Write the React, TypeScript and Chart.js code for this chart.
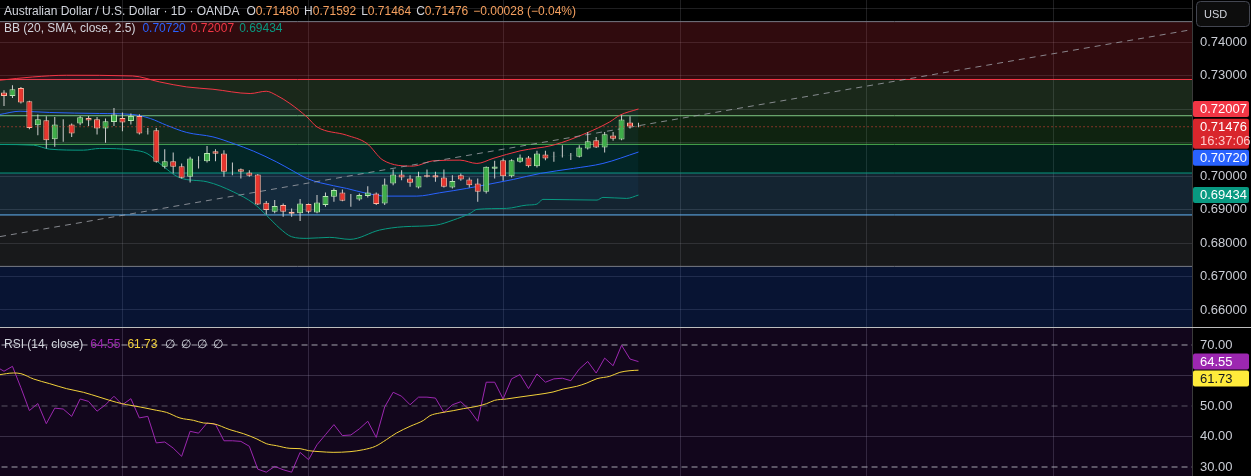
import React, { useEffect, useRef } from 'react';
import { Chart, registerables } from 'chart.js';

Chart.register(...registerables);

const FONT = '"Liberation Sans", Arial, sans-serif';

// ---- candles (daily) ----
const opens = [0.72499, 0.72397, 0.72636, 0.72239, 0.71522, 0.71672, 0.71105, 0.71486, 0.71543, 0.71573, 0.71740, 0.71702, 0.71424, 0.71621, 0.71740, 0.71651, 0.71800, 0.71336, 0.71373, 0.70278, 0.70448, 0.70299, 0.69979, 0.70478, 0.70448, 0.70746, 0.70678, 0.70149, 0.70209, 0.70110, 0.70051, 0.69203, 0.68934, 0.69134, 0.68934, 0.68887, 0.69164, 0.68916, 0.69134, 0.69382, 0.69513, 0.69328, 0.69305, 0.69403, 0.69484, 0.69185, 0.69782, 0.70051, 0.69931, 0.69663, 0.70030, 0.70030, 0.69961, 0.69663, 0.70030, 0.69900, 0.69782, 0.69531, 0.70218, 0.70478, 0.70000, 0.70427, 0.70558, 0.70299, 0.70648, 0.70582, 0.70600, 0.70612, 0.70576, 0.70827, 0.71075, 0.70857, 0.71215, 0.71096, 0.71603, 0.71480];
const highs = [0.72567, 0.72716, 0.72666, 0.72250, 0.71842, 0.71791, 0.71770, 0.71702, 0.71573, 0.71800, 0.71800, 0.71770, 0.71722, 0.72039, 0.71901, 0.71872, 0.71850, 0.71442, 0.71440, 0.70806, 0.70707, 0.70380, 0.70576, 0.70597, 0.70904, 0.70806, 0.70776, 0.70409, 0.70230, 0.70179, 0.70060, 0.69254, 0.69284, 0.69180, 0.69036, 0.69314, 0.69180, 0.69433, 0.69513, 0.69633, 0.69603, 0.69463, 0.69484, 0.69701, 0.69513, 0.69931, 0.70200, 0.70179, 0.70030, 0.70128, 0.70200, 0.70128, 0.70200, 0.70030, 0.70080, 0.69960, 0.69931, 0.70290, 0.70457, 0.70528, 0.70507, 0.70648, 0.70600, 0.70755, 0.70760, 0.70725, 0.70925, 0.70695, 0.70925, 0.71322, 0.71173, 0.71322, 0.71322, 0.71821, 0.71791, 0.71592];
const lows = [0.72099, 0.72337, 0.72170, 0.71403, 0.71224, 0.70827, 0.70875, 0.71024, 0.71173, 0.71522, 0.71500, 0.71245, 0.70994, 0.71501, 0.71343, 0.71543, 0.71245, 0.71245, 0.70400, 0.70230, 0.70081, 0.69930, 0.69812, 0.70230, 0.70409, 0.70448, 0.69979, 0.70030, 0.69931, 0.69979, 0.69134, 0.68857, 0.68887, 0.68785, 0.68785, 0.68657, 0.68887, 0.68887, 0.69084, 0.69233, 0.69250, 0.69084, 0.69263, 0.69364, 0.69134, 0.69134, 0.69731, 0.69880, 0.69681, 0.69633, 0.69961, 0.69830, 0.69663, 0.69633, 0.69860, 0.69663, 0.69233, 0.69484, 0.69931, 0.69860, 0.69960, 0.70397, 0.70260, 0.70260, 0.70478, 0.70427, 0.70558, 0.70480, 0.70560, 0.70797, 0.70840, 0.70707, 0.71054, 0.71075, 0.71424, 0.71464];
const closes = [0.72397, 0.72597, 0.72200, 0.71442, 0.71702, 0.71075, 0.71543, 0.71480, 0.71275, 0.71761, 0.71663, 0.71424, 0.71642, 0.71842, 0.71603, 0.71800, 0.71275, 0.71343, 0.70427, 0.70448, 0.70278, 0.69949, 0.70528, 0.70484, 0.70695, 0.70666, 0.70128, 0.70155, 0.70128, 0.70009, 0.69155, 0.68985, 0.69104, 0.68934, 0.68875, 0.69185, 0.68934, 0.69215, 0.69403, 0.69582, 0.69263, 0.69334, 0.69433, 0.69513, 0.69164, 0.69752, 0.70051, 0.69961, 0.69800, 0.70000, 0.69979, 0.69961, 0.69681, 0.69851, 0.69900, 0.69731, 0.69531, 0.70278, 0.70290, 0.70000, 0.70478, 0.70558, 0.70299, 0.70678, 0.70528, 0.70588, 0.70606, 0.70618, 0.70857, 0.71045, 0.70857, 0.71254, 0.71114, 0.71693, 0.71480, 0.71476];

// ---- Bollinger Bands (20, 2.5), read at sample positions [candle index, price] ----
const bbUpper: [number, number][] = [[-0.5, 0.72866], [3.4, 0.72964], [7.4, 0.73015], [15.2, 0.72994], [18.4, 0.72815], [21.6, 0.72666], [24.7, 0.72597], [29.1, 0.72469], [31.0, 0.72537], [32.2, 0.72418], [33.8, 0.72170], [35.8, 0.71770], [37.0, 0.71472], [40.5, 0.71224], [42.9, 0.70976], [44.8, 0.70478], [48.4, 0.70299], [50.7, 0.70457], [53.9, 0.70478], [55.9, 0.70379], [57.8, 0.70528], [61.0, 0.70755], [64.9, 0.70925], [68.9, 0.71293], [71.6, 0.71621], [72.8, 0.71821], [75, 0.72007]];
const bbBasis: [number, number][] = [[-0.5, 0.71842], [1.9, 0.71940], [5.4, 0.71902], [11.3, 0.71872], [15.2, 0.71842], [17.3, 0.71722], [19.2, 0.71522], [21.6, 0.71305], [24.7, 0.71173], [27.1, 0.70976], [29.5, 0.70746], [32.2, 0.70427], [34.2, 0.70149], [35.8, 0.69931], [37.4, 0.69800], [40.5, 0.69633], [42.9, 0.69484], [45.2, 0.69403], [48.8, 0.69403], [51.5, 0.69502], [54.7, 0.69633], [57.8, 0.69782], [60.2, 0.69901], [63.4, 0.70081], [67.3, 0.70230], [70.8, 0.70379], [75, 0.70720]];
const bbLower: [number, number][] = [[-0.5, 0.70946], [3.5, 0.70925], [5.4, 0.70806], [9.4, 0.70776], [11.3, 0.70827], [15.3, 0.70776], [16.9, 0.70678], [18.4, 0.70379], [20.8, 0.69949], [24.0, 0.69830], [27.1, 0.69531], [29.5, 0.69185], [31.0, 0.68836], [32.6, 0.68439], [34.0, 0.68188], [35.8, 0.68140], [38.5, 0.68170], [40.9, 0.68110], [44.4, 0.68388], [47.2, 0.68487], [51.1, 0.68537], [53.1, 0.68687], [55.1, 0.68887], [55.9, 0.69006], [59.4, 0.69036], [61.8, 0.69134], [63.0, 0.69164], [63.7, 0.69305], [70.1, 0.69284], [70.8, 0.69364], [73.6, 0.69334], [75, 0.69434]];

// ---- RSI (14) per candle, first value belongs to candle index -1 ----
const rsiFirstIndex = -1;
const rsiValues = [63.0, 61.4, 63.0, 56.0, 48.5, 50.8, 44.2, 49.3, 49.0, 46.6, 52.3, 51.5, 48.3, 50.4, 53.2, 50.4, 52.4, 46.1, 46.6, 37.9, 38.2, 36.2, 33.5, 41.7, 41.1, 44.4, 44.0, 38.6, 38.6, 38.4, 36.8, 29.3, 28.3, 30.2, 29.1, 28.3, 34.8, 32.4, 37.3, 40.6, 43.9, 40.3, 40.5, 42.5, 45.0, 39.7, 49.7, 54.5, 53.2, 50.4, 52.9, 52.9, 52.6, 47.9, 50.4, 51.4, 48.8, 45.0, 57.8, 57.8, 52.3, 58.9, 60.3, 55.7, 60.5, 57.8, 58.9, 59.1, 58.3, 62.1, 64.6, 60.8, 65.7, 63.2, 69.9, 65.4, 64.55];
// RSI-based MA, read at sample positions [candle index, value]
const rsiMa: [number, number][] = [[-0.5, 60.27], [1.1, 60.82], [2.0, 60.6], [3.5, 58.85], [5.4, 57.32], [7.4, 55.68], [9.4, 54.48], [11.35, 52.84], [13.3, 51.2], [14.5, 50.44], [16.1, 49.67], [18.05, 48.58], [19.2, 47.92], [20.8, 46.07], [22.4, 45.3], [23.6, 44.43], [24.7, 44.21], [26.7, 42.24], [28.3, 40.93], [29.9, 39.18], [31.0, 37.65], [32.2, 36.99], [33.8, 36.12], [35.0, 36.01], [36.0, 35.36], [37.35, 35.03], [38.9, 34.81], [40.9, 35.03], [42.5, 35.68], [43.9, 36.78], [45.2, 38.96], [46.4, 41.15], [48.0, 43.33], [49.6, 45.3], [50.35, 46.83], [51.5, 47.7], [53.1, 48.47], [54.3, 49.13], [55.9, 49.89], [57.05, 50.77], [58.0, 51.86], [59.4, 52.3], [61.0, 52.95], [63.0, 53.72], [64.9, 54.59], [66.1, 55.57], [67.7, 56.45], [68.9, 57.54], [70.1, 58.96], [71.6, 59.73], [72.8, 61.04], [74.0, 61.58], [75, 61.73]];

// ---- drawings ----
const fibLevels = [0.74617, 0.72888, 0.71805, 0.70949, 0.70093, 0.68840, 0.67302, 0.62781];
const fibColors = ['#787b86', '#f23645', '#81c784', '#4caf50', '#089981', '#64b5f6', '#787b86', '#2962ff'];
const trendLine: [number, number][] = [[-0.47, 0.68193], [140.43, 0.74379]];
const lastPrice = 0.71476;

// ---- axes ----
const X_MIN = -0.4728;
const X_MAX = 140.43;
const P_MIN = 0.65491;
const P_MAX = 0.75264;
const R_MIN = 27.05;
const R_MAX = 75.57;
const vGridIdx = [14, 36, 59, 80, 102, 124];
const priceTicks = [0.66, 0.67, 0.68, 0.69, 0.70, 0.71, 0.72, 0.73, 0.74, 0.75];
const priceTickLabels = ['0.66000', '0.67000', '0.68000', '0.69000', '0.70000', '', '', '0.73000', '0.74000', ''];
const rsiTicks = [30, 40, 50, 60, 70];
const rsiTickLabels = ['30.00', '40.00', '50.00', '', '70.00'];
const rsiBands = [70, 50, 30];

// ---- texts ----
const headerTitle = 'Australian Dollar / U.S. Dollar · 1D · OANDA';
const ohlcLetters = ['O', 'H', 'L', 'C'];
const ohlcValues = ['0.71480', '0.71592', '0.71464', '0.71476'];
const changeText = '−0.00028 (−0.04%)';
const bbTitle = 'BB (20, SMA, close, 2.5)';
const bbValueTexts = ['0.70720', '0.72007', '0.69434'];
const bbValueColors = ['#2962ff', '#f23645', '#089981'];
const rsiTitle = 'RSI (14, close)';
const rsiValueTexts = ['64.55', '61.73'];
const rsiEmpty = ['∅', '∅', '∅', '∅'];

const priceTags = [
  { value: 0.72007, text: '0.72007', bg: '#f23645', fg: '#ffffff' },
  { value: 0.71476, text: '0.71476', sub: '16:37:06', bg: '#d9262c', fg: '#ffffff' },
  { value: 0.70720, text: '0.70720', bg: '#2962ff', fg: '#ffffff' },
  { value: 0.69434, text: '0.69434', bg: '#089981', fg: '#ffffff' },
];
const rsiTags = [
  { value: 64.55, text: '64.55', bg: '#9c27b0', fg: '#ffffff' },
  { value: 61.73, text: '61.73', bg: '#ffeb3b', fg: '#131722' },
];

const TEXT = '#d1d4dc';
const AXIS_TEXT = '#c9ccd4';
const ORANGE = '#f5a05f';
const RSI_COLOR = '#9c27b0';
const MA_COLOR = '#f2d13a';

function rgba(hex: string, a: number) {
  const n = parseInt(hex.slice(1), 16);
  return `rgba(${(n >> 16) & 255},${(n >> 8) & 255},${n & 255},${a})`;
}

function drawRuns(ctx: CanvasRenderingContext2D, x: number, y: number, runs: { t: string; c: string; g: number }[]) {
  for (const r of runs) {
    ctx.fillStyle = r.c;
    ctx.fillText(r.t, x, y);
    x += ctx.measureText(r.t).width + r.g;
  }
}

function drawTags(ctx: CanvasRenderingContext2D, scale: any, tags: any[], left: number) {
  const items = tags
    .map((t) => ({ ...t, y: scale.getPixelForValue(t.value), h: t.sub ? 30 : 16 }))
    .sort((a, b) => a.y - b.y);
  let prevBottom = -1e9;
  ctx.font = `13px ${FONT}`;
  ctx.textBaseline = 'middle';
  ctx.textAlign = 'left';
  for (const it of items) {
    let top = it.y - 8;
    if (top < prevBottom + 1) top = prevBottom + 1;
    prevBottom = top + it.h;
    ctx.fillStyle = it.bg;
    ctx.beginPath();
    (ctx as any).roundRect(left + 1, top, 56, it.h, 2);
    ctx.fill();
    ctx.fillStyle = it.fg;
    ctx.fillText(it.text, left + 8, top + 8.5);
    if (it.sub) {
      ctx.fillStyle = '#ffc9c9';
      ctx.fillText(it.sub, left + 8, top + 22.5);
    }
  }
}

const xScaleCfg = (gridColor: string) => ({
  type: 'linear' as const,
  min: X_MIN,
  max: X_MAX,
  bounds: 'data' as const,
  offset: false,
  display: true,
  ticks: { display: false },
  border: { display: false },
  grid: { color: gridColor, drawTicks: false, lineWidth: 1, offset: false },
  afterBuildTicks: (s: any) => {
    s.ticks = vGridIdx.map((v) => ({ value: v }));
  },
  afterFit: (s: any) => {
    s.height = 0;
    s.paddingLeft = 0;
    s.paddingRight = 0;
  },
});

export default function App() {
  const priceRef = useRef<HTMLCanvasElement>(null);
  const rsiRef = useRef<HTMLCanvasElement>(null);

  useEffect(() => {
    const idx = opens.map((_, i) => i);
    const isUp = idx.map((i) => closes[i] >= opens[i]);
    const span = (v: number) => [{ x: X_MIN - 1, y: v }, { x: X_MAX + 1, y: v }];

    const fibDatasets = fibLevels.map((lvl, k) => ({
      type: 'line' as const,
      data: span(lvl),
      borderColor: fibColors[k],
      borderWidth: 1,
      pointRadius: 0,
      fill: k === 0 ? false : { target: k - 1 },
      backgroundColor: rgba(fibColors[k], 0.2),
      order: 100,
    }));
    const nFib = fibDatasets.length;

    const priceOverlay = {
      id: 'priceOverlay',
      beforeDraw(chart: any) {
        const { ctx, width, height } = chart;
        ctx.save();
        ctx.fillStyle = '#000000';
        ctx.fillRect(0, 0, width, height);
        ctx.restore();
      },
      afterDraw(chart: any) {
        const ctx: CanvasRenderingContext2D = chart.ctx;
        const ys = chart.scales.y;
        ctx.save();
        ctx.font = `12px ${FONT}`;
        ctx.textBaseline = 'middle';
        ctx.textAlign = 'left';
        const line1: { t: string; c: string; g: number }[] = [{ t: headerTitle, c: TEXT, g: 7 }];
        ohlcLetters.forEach((l, i) => {
          line1.push({ t: l, c: TEXT, g: 0 });
          line1.push({ t: ohlcValues[i], c: ORANGE, g: 5 });
        });
        line1.push({ t: changeText, c: ORANGE, g: 0 });
        drawRuns(ctx, 4, 12, line1);
        const line2 = [{ t: bbTitle, c: TEXT, g: 7 }].concat(
          bbValueTexts.map((t, i) => ({ t, c: bbValueColors[i], g: 5 }))
        );
        drawRuns(ctx, 4, 28.5, line2);
        drawTags(ctx, ys, priceTags, ys.left);
        // currency box
        ctx.strokeStyle = '#434651';
        ctx.fillStyle = '#0d0d0d';
        ctx.lineWidth = 1;
        ctx.beginPath();
        (ctx as any).roundRect(ys.left + 4.5, 1.5, 53, 25, 4);
        ctx.fill();
        ctx.stroke();
        ctx.font = `11px ${FONT}`;
        ctx.fillStyle = TEXT;
        ctx.fillText('USD', ys.left + 12, 14.5);
        ctx.restore();
      },
    };

    const priceChart = new Chart(priceRef.current as HTMLCanvasElement, {
      type: 'bar',
      data: {
        datasets: [
          ...fibDatasets,
          {
            type: 'line' as const,
            data: bbUpper.map(([x, y]) => ({ x, y })),
            borderColor: '#f23645',
            borderWidth: 1,
            pointRadius: 0,
            cubicInterpolationMode: 'monotone' as const,
            order: 50,
          },
          {
            type: 'line' as const,
            data: bbBasis.map(([x, y]) => ({ x, y })),
            borderColor: '#2962ff',
            borderWidth: 1,
            pointRadius: 0,
            cubicInterpolationMode: 'monotone' as const,
            order: 50,
          },
          {
            type: 'line' as const,
            data: bbLower.map(([x, y]) => ({ x, y })),
            borderColor: '#089981',
            borderWidth: 1,
            pointRadius: 0,
            cubicInterpolationMode: 'monotone' as const,
            fill: { target: nFib },
            backgroundColor: 'rgba(33,150,243,0.06)',
            order: 50,
          },
          {
            type: 'line' as const,
            data: trendLine.map(([x, y]) => ({ x, y })),
            borderColor: 'rgba(160,163,170,0.8)',
            borderWidth: 1,
            borderDash: [6, 5],
            pointRadius: 0,
            order: 40,
          },
          {
            type: 'bar' as const,
            data: idx.map((i) => ({ x: i, y: [lows[i], highs[i]] })),
            backgroundColor: '#cfcfcf',
            barThickness: 1,
            grouped: false,
            inflateAmount: 0,
            order: 30,
          },
          {
            type: 'bar' as const,
            data: idx.map((i) => ({ x: i, y: [opens[i], closes[i]] })),
            backgroundColor: idx.map((i) => (isUp[i] ? '#3fae49' : '#e8352e')),
            borderColor: idx.map((i) => (isUp[i] ? '#b5e6b0' : '#ffb4a0')),
            borderWidth: 1,
            borderSkipped: false,
            barThickness: 6,
            grouped: false,
            inflateAmount: 0,
            order: 20,
          },
          {
            type: 'line' as const,
            data: span(lastPrice),
            borderColor: '#f0463a',
            borderWidth: 1,
            borderDash: [1, 3],
            pointRadius: 0,
            order: 10,
          },
        ] as any,
      },
      options: {
        animation: false,
        responsive: false,
        events: [],
        layout: { padding: 0 },
        plugins: { legend: { display: false }, tooltip: { enabled: false } },
        scales: {
          x: xScaleCfg('rgba(140,140,150,0.22)') as any,
          y: {
            type: 'linear',
            position: 'right',
            min: P_MIN,
            max: P_MAX,
            bounds: 'data',
            border: { display: true, color: '#3a3a3a' },
            grid: { color: 'rgba(140,140,150,0.22)', drawTicks: false },
            ticks: {
              padding: 8,
              crossAlign: 'near',
              color: AXIS_TEXT,
              font: { family: FONT, size: 13 },
              autoSkip: false,
              callback: (v: any) => {
                const k = priceTicks.findIndex((t) => Math.abs(t - Number(v)) < 1e-6);
                return k >= 0 ? priceTickLabels[k] : '';
              },
            },
            afterBuildTicks: (s: any) => {
              s.ticks = priceTicks.map((v) => ({ value: v }));
            },
            afterFit: (s: any) => {
              s.width = 59;
              s.paddingTop = 0;
              s.paddingBottom = 0;
            },
          } as any,
        },
      },
      plugins: [priceOverlay],
    });

    const rsiOverlay = {
      id: 'rsiOverlay',
      beforeDraw(chart: any) {
        const { ctx, width, height, chartArea } = chart;
        ctx.save();
        ctx.fillStyle = '#000000';
        ctx.fillRect(0, 0, width, height);
        ctx.fillStyle = '#12061c';
        ctx.fillRect(chartArea.left, chartArea.top, chartArea.right - chartArea.left, chartArea.bottom - chartArea.top);
        ctx.restore();
      },
      afterDraw(chart: any) {
        const ctx: CanvasRenderingContext2D = chart.ctx;
        const ys = chart.scales.y;
        ctx.save();
        ctx.font = `12px ${FONT}`;
        ctx.textBaseline = 'middle';
        ctx.textAlign = 'left';
        const runs = [
          { t: rsiTitle, c: TEXT, g: 7 },
          { t: rsiValueTexts[0], c: RSI_COLOR, g: 7 },
          { t: rsiValueTexts[1], c: MA_COLOR, g: 8 },
        ].concat(rsiEmpty.map((t) => ({ t, c: TEXT, g: 6 })));
        drawRuns(ctx, 4, 16.5, runs);
        drawTags(ctx, ys, rsiTags, ys.left);
        ctx.restore();
      },
    };

    const rsiChart = new Chart(rsiRef.current as HTMLCanvasElement, {
      type: 'line',
      data: {
        datasets: [
          ...rsiBands.map((b) => ({
            data: span(b),
            borderColor: b === 50 ? 'rgba(149,152,161,0.55)' : 'rgba(190,192,200,0.85)',
            borderWidth: 1,
            borderDash: [6, 4],
            pointRadius: 0,
            order: 50,
          })),
          {
            data: rsiValues.map((v, k) => ({ x: k + rsiFirstIndex, y: v })),
            borderColor: RSI_COLOR,
            borderWidth: 1,
            pointRadius: 0,
            order: 20,
          },
          {
            data: rsiMa.map(([x, y]) => ({ x, y })),
            borderColor: MA_COLOR,
            borderWidth: 1,
            pointRadius: 0,
            cubicInterpolationMode: 'monotone' as const,
            order: 10,
          },
        ] as any,
      },
      options: {
        animation: false,
        responsive: false,
        events: [],
        layout: { padding: 0 },
        plugins: { legend: { display: false }, tooltip: { enabled: false } },
        scales: {
          x: xScaleCfg('rgba(150,140,170,0.25)') as any,
          y: {
            type: 'linear',
            position: 'right',
            min: R_MIN,
            max: R_MAX,
            bounds: 'data',
            border: { display: true, color: '#3a3a3a' },
            grid: {
              drawTicks: false,
              color: (c: any) => (c.tick && (c.tick.value === 60 || c.tick.value === 40) ? 'rgba(150,140,170,0.3)' : 'rgba(0,0,0,0)'),
            },
            ticks: {
              padding: 8,
              crossAlign: 'near',
              color: AXIS_TEXT,
              font: { family: FONT, size: 13 },
              autoSkip: false,
              callback: (v: any) => {
                const k = rsiTicks.indexOf(Number(v));
                return k >= 0 ? rsiTickLabels[k] : '';
              },
            },
            afterBuildTicks: (s: any) => {
              s.ticks = rsiTicks.map((v) => ({ value: v }));
            },
            afterFit: (s: any) => {
              s.width = 59;
              s.paddingTop = 0;
              s.paddingBottom = 0;
            },
          } as any,
        },
      },
      plugins: [rsiOverlay],
    });

    return () => {
      priceChart.destroy();
      rsiChart.destroy();
    };
  }, []);

  return (
    <div style={{ position: 'absolute', left: 0, top: 0, width: 1251, height: 476, background: '#000', overflow: 'hidden' }}>
      <canvas ref={priceRef} width={1251} height={327} style={{ position: 'absolute', left: 0, top: 0, width: 1251, height: 327, display: 'block' }} />
      <div style={{ position: 'absolute', left: 0, top: 327, width: 1251, height: 1, background: '#bdbdbd' }} />
      <canvas ref={rsiRef} width={1251} height={148} style={{ position: 'absolute', left: 0, top: 328, width: 1251, height: 148, display: 'block' }} />
    </div>
  );
}
